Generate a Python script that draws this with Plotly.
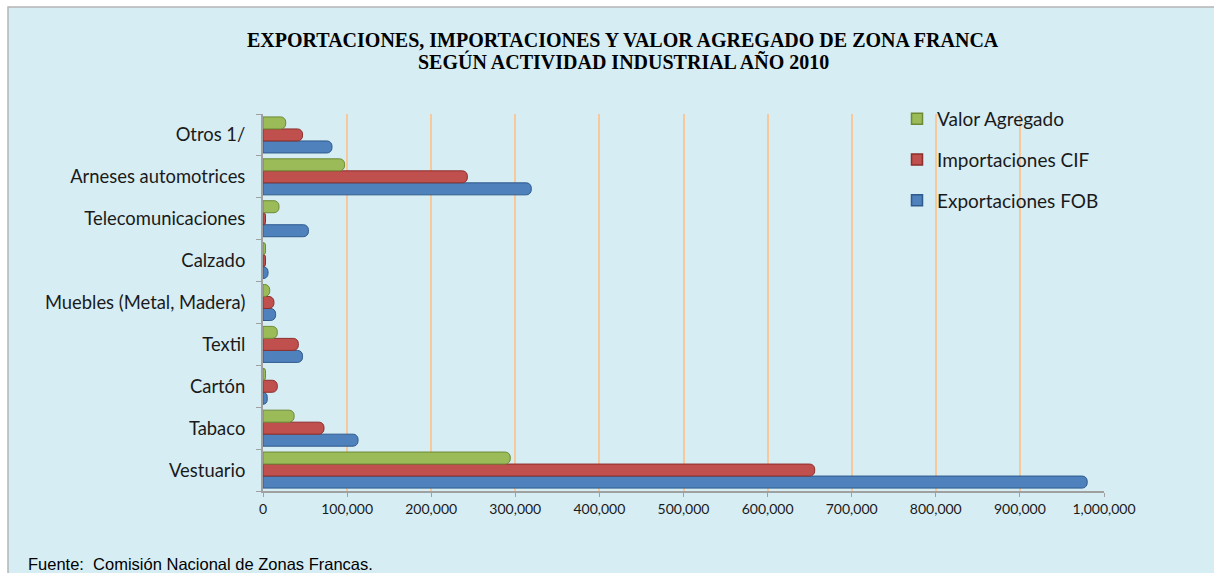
import plotly.graph_objects as go

categorias = ["Vestuario", "Tabaco", "Cartón", "Textil", "Muebles (Metal, Madera)",
              "Calzado", "Telecomunicaciones", "Arneses automotrices", "Otros 1/"]
exportaciones_fob = [980000, 113000, 5000, 47000, 15000, 6000, 54000, 319000, 82000]
importaciones_cif = [656000, 72500, 17000, 42000, 13000, 3000, 3000, 243000, 47000]
valor_agregado = [294000, 37000, 3000, 17000, 8000, 3000, 19000, 97000, 27000]
x_ticks = [0, 100000, 200000, 300000, 400000, 500000, 600000, 700000, 800000, 900000, 1000000]

BLUE = "#4F81BD"
RED = "#C0504D"
GREEN = "#9BBB59"
BG = "#D6EDF4"

W, H = 1214, 573
L, R, T, B = 263, 110, 114, 82
PW, PH = W - L - R, H - T - B

def px_x(p):
    return (p - L) / PW

def px_y(p):
    return (H - B - p) / PH

fig = go.Figure()
series = [("Exportaciones FOB", exportaciones_fob, BLUE, "#2F5A8C", 3),
          ("Importaciones CIF", importaciones_cif, RED, "#8C2E2B", 2),
          ("Valor Agregado", valor_agregado, GREEN, "#6E8A35", 1)]
for name, vals, col, edge, rank in series:
    fig.add_trace(go.Bar(
        y=categorias, x=vals, name=name, orientation="h", showlegend=False,
        marker=dict(color=col, line=dict(color=edge, width=1), cornerradius=5),
    ))
for name, vals, col, edge, rank in series:
    # square swatches for the legend
    fig.add_trace(go.Scatter(
        x=[None], y=[None], mode="markers", name=name, legendrank=rank,
        legendgroup=name,
        marker=dict(symbol="square", size=11, color=col, line=dict(color=edge, width=1.5)),
    ))

fig.update_layout(
    width=W, height=H,
    margin=dict(l=L, r=R, t=T, b=B),
    paper_bgcolor="white", plot_bgcolor=BG,
    barmode="group", bargap=0.14, bargroupgap=0,
    font=dict(family="Lato, Open Sans, sans-serif", color="#1a1a1a"),
    legend=dict(x=px_x(897), y=px_y(100), xanchor="left", yanchor="top",
                traceorder="grouped", tracegroupgap=13, itemwidth=30,
                font=dict(size=19), bgcolor="rgba(0,0,0,0)"),
    xaxis=dict(range=[0, 1000000], tickvals=x_ticks, tickformat=",d",
               showgrid=True, gridcolor="#F7C899", gridwidth=2, zeroline=False,
               showline=True, linecolor="#A0A0A0", linewidth=2,
               ticks="outside", tickcolor="#A0A0A0", ticklen=4,
               tickfont=dict(size=14)),
    yaxis=dict(showline=True, linecolor="#A0A0A0", linewidth=2,
               ticks="outside", tickcolor="#A0A0A0", ticklen=5,
               tickson="boundaries", showgrid=False,
               tickfont=dict(size=18.4), ticklabelstandoff=12),
)

# chart frame
fig.add_shape(type="rect", xref="paper", yref="paper", layer="below",
              x0=px_x(8), x1=px_x(1230), y0=px_y(590), y1=px_y(7),
              fillcolor=BG, line=dict(color="#B5B5B5", width=1.5))

fig.add_annotation(xref="paper", yref="paper", x=px_x(623), y=px_y(40), yanchor="middle",
                   text="<b>EXPORTACIONES, IMPORTACIONES Y VALOR AGREGADO DE ZONA FRANCA</b>",
                   showarrow=False, font=dict(family="Liberation Serif", size=20, color="black"))
fig.add_annotation(xref="paper", yref="paper", x=px_x(623), y=px_y(61), yanchor="middle",
                   text="<b>SEGÚN ACTIVIDAD INDUSTRIAL AÑO 2010</b>",
                   showarrow=False, font=dict(family="Liberation Serif", size=20, color="black"))
fig.add_annotation(xref="paper", yref="paper", x=px_x(26), y=px_y(564),
                   xanchor="left", yanchor="middle",
                   text="Fuente:  Comisión Nacional de Zonas Francas.",
                   showarrow=False, font=dict(family="Liberation Sans", size=16.5, color="black"))

fig.write_html("out.html", config={"displayModeBar": False},
               post_script="document.body.style.margin='0';")
